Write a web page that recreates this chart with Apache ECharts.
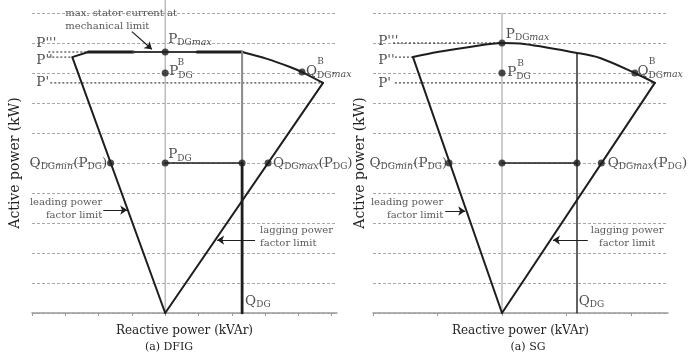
<!DOCTYPE html>
<html><head><meta charset="utf-8">
<script src="https://cdn.jsdelivr.net/npm/echarts@6/dist/echarts.min.js"></script>
<style>html,body{margin:0;padding:0;background:#fff}#c{width:700px;height:357px}</style>
</head><body><div id="c"></div>
<script>
// ---------- tick positions ----------
const dfigTicks = [-4, -3, -2, -1, 0, 1, 2, 3, 4, 5];
const sgTicks = [-2, -1, 0, 1, 2];
const activeTicksMax = 10;

// ---------- DFIG capability diagram (reactive power, active power) ----------
const dfigLeading = [[0, 0], [-2.79, 8.53], [-2.31, 8.7]];
const dfigTopA = [[-2.31, 8.7], [-0.96, 8.7]];
const dfigTopMid = [[-0.96, 8.7], [0.96, 8.7]];
const dfigTopB = [[0.96, 8.7], [2.31, 8.7]];
const dfigStatorArc = [[2.31, 8.7], [3.06, 8.47], [3.75, 8.2], [4.11, 8.03], [4.74, 7.67]];
const dfigLagging = [[4.74, 7.67], [0, 0]];
const dfigQdgUpper = [[2.31, 8.7], [2.31, 5]];
const dfigQdgLower = [[2.31, 5], [2.31, 0]];
const dfigPdgLine = [[0, 5], [2.31, 5]];
const dfigCenter = [[0, 0], [0, 10.43]];
const dfigRefP3 = [[-3.51, 8.7], [-2.31, 8.7]];
const dfigRefP2 = [[-3.51, 8.53], [-2.79, 8.53]];
const dfigRefP1 = [[-3.45, 7.67], [4.74, 7.67]];
const dfigPoints = [[0, 8.7], [0, 8.0], [4.11, 8.03], [-1.64, 5], [0, 5], [2.31, 5], [3.09, 5]];

// ---------- SG capability diagram ----------
const sgLeading = [[0, 0], [-1.38, 8.53]];
const sgStatorArc = [[-1.38, 8.53], [-1.0, 8.7], [-0.5, 8.87], [0, 9.0], [0.28, 8.98], [1.163, 8.67], [1.52, 8.5], [2.06, 8.0], [2.37, 7.67]];
const sgLagging = [[2.37, 7.67], [0, 0]];
const sgQdg = [[1.163, 8.67], [1.163, 0]];
const sgPdgLine = [[0, 5], [1.163, 5]];
const sgCenter = [[0, 0], [0, 10]];
const sgRefP3 = [[-1.69, 9.0], [0, 9.0]];
const sgRefP2 = [[-1.66, 8.53], [-1.38, 8.53]];
const sgRefP1 = [[-1.66, 7.67], [2.37, 7.67]];
const sgPoints = [[0, 9.0], [0, 8.0], [2.06, 8.0], [-0.82, 5], [0, 5], [1.163, 5], [1.54, 5]];

// ---------- texts ----------
const xName = 'Reactive power (kVAr)';
const yName = 'Active power (kW)';
const captions = ['(a) DFIG', '(a) SG'];

const FONT = "'DejaVu Serif', serif";
const TXT = '#222222';
const LINE = '#1e1e1e';
const GRIDC = '#a8a8a8';

const RICH = {
  b: { fontFamily: FONT, fontSize: 13.5, lineHeight: 17, color: TXT },
  s: { fontFamily: FONT, fontSize: 9, lineHeight: 11, verticalAlign: 'bottom', color: TXT },
  si: { fontFamily: FONT, fontSize: 9.5, fontStyle: 'italic', lineHeight: 11, verticalAlign: 'bottom', color: TXT },
  sp: { fontFamily: FONT, fontSize: 9, lineHeight: 11, color: TXT }
};

function lab(x, y, text, align, extra) {
  return {
    value: [x, y],
    label: Object.assign({
      show: true, position: 'inside', align: align || 'left', verticalAlign: 'middle',
      formatter: text, rich: RICH, fontFamily: FONT, fontSize: 13, color: TXT
    }, extra || {})
  };
}
const note = { fontSize: 10, lineHeight: 13, color: '#2e2e2e' };

const dfigLabels = [
  lab(-3.87, 9.0, "{b|P'''}"),
  lab(-3.87, 8.43, "{b|P''}"),
  lab(-3.87, 7.67, "{b|P'}"),
  lab(0.09, 9.13, '{b|P}{s|DG}{si|max}'),
  lab(0.12, 8.05, '{b|P}{s|DG}'),
  lab(0.37, 8.35, '{sp|B}'),
  lab(4.23, 8.05, '{b|Q}{s|DG}{si|max}'),
  lab(4.57, 8.38, '{sp|B}'),
  lab(-1.74, 5, '{b|Q}{s|DG}{si|min}{b|(P}{s|DG}{b|)}', 'right'),
  lab(0.09, 5.28, '{b|P}{s|DG}'),
  lab(3.24, 5, '{b|Q}{s|DG}{si|max}{b|(P}{s|DG}{b|)}'),
  lab(2.4, 0.4, '{b|Q}{s|DG}'),
  lab(-3.0, 9.78, 'max. stator current at\nmechanical limit', 'left', note),
  lab(-1.89, 3.48, 'leading power\nfactor limit', 'right', note),
  lab(2.85, 2.55, 'lagging power\nfactor limit', 'left', note)
];
const sgLabels = [
  lab(-1.92, 9.05, "{b|P'''}"),
  lab(-1.92, 8.43, "{b|P''}"),
  lab(-1.92, 7.65, "{b|P'}"),
  lab(0.06, 9.3, '{b|P}{s|DG}{si|max}'),
  lab(0.08, 8.02, '{b|P}{s|DG}'),
  lab(0.235, 8.3, '{sp|B}'),
  lab(2.1, 8.05, '{b|Q}{s|DG}{si|max}'),
  lab(2.275, 8.38, '{sp|B}'),
  lab(-0.85, 5, '{b|Q}{s|DG}{si|min}{b|(P}{s|DG}{b|)}', 'right'),
  lab(1.64, 5, '{b|Q}{s|DG}{si|max}{b|(P}{s|DG}{b|)}'),
  lab(1.19, 0.4, '{b|Q}{s|DG}'),
  lab(-0.91, 3.48, 'leading power\nfactor limit', 'right', note),
  lab(1.94, 2.55, 'lagging power\nfactor limit', 'center', note)
];
const dfigArrows = [
  [[-1.0, 9.38], [-0.4, 8.79]],
  [[-1.86, 3.43], [-1.14, 3.43]],
  [[2.7, 2.43], [1.56, 2.43]]
];
const sgArrows = [
  [[-0.88, 3.4], [-0.57, 3.4]],
  [[1.33, 2.43], [0.79, 2.43]]
];

function poly(i, pts, color, width, extra) {
  return Object.assign({
    type: 'line', xAxisIndex: i, yAxisIndex: i, data: pts, symbol: 'none', silent: true,
    animation: false, lineStyle: { color: color, width: width, cap: 'round', join: 'round' }, z: 3
  }, extra || {});
}
function dashed(i, pts) {
  return poly(i, pts, LINE, 1, { lineStyle: { color: LINE, width: 1, type: [2, 2] }, z: 2 });
}
function dots(i, pts) {
  return { type: 'scatter', xAxisIndex: i, yAxisIndex: i, data: pts, symbolSize: 7,
    itemStyle: { color: LINE }, z: 5, silent: true, animation: false };
}
function labels(i, items) {
  return { type: 'scatter', xAxisIndex: i, yAxisIndex: i, data: items, symbolSize: 1,
    itemStyle: { color: 'rgba(0,0,0,0)' }, z: 6, silent: true, animation: false };
}
function arrows(i, list) {
  return { type: 'lines', coordinateSystem: 'cartesian2d', xAxisIndex: i, yAxisIndex: i,
    data: list.map(c => ({ coords: c })), symbol: ['none', 'arrow'], symbolSize: [6, 7],
    lineStyle: { color: LINE, width: 1.2, opacity: 1 }, z: 6, silent: true, animation: false };
}

function xAx(i, min, max, ticks) {
  return {
    gridIndex: i, type: 'value', min: min, max: max, interval: 1,
    axisLine: { show: true, lineStyle: { color: '#9a9a9a', width: 1.5 } },
    axisTick: { show: true, customValues: ticks, length: 3, lineStyle: { color: '#9a9a9a', width: 1 } },
    axisLabel: { show: false }, splitLine: { show: false },
    name: xName, nameLocation: 'middle', nameGap: 12,
    nameTextStyle: { fontFamily: FONT, fontSize: 12, color: TXT }
  };
}
function yAx(i, gap) {
  return {
    gridIndex: i, type: 'value', min: 0, max: activeTicksMax, interval: 1,
    axisLine: { show: false }, axisTick: { show: false }, axisLabel: { show: false },
    splitLine: { show: true, lineStyle: { color: GRIDC, width: 1, type: [3, 2] } },
    name: yName, nameLocation: 'middle', nameGap: gap, nameRotate: 90,
    nameTextStyle: { fontFamily: FONT, fontSize: 14, color: TXT }
  };
}

const chart = echarts.init(document.getElementById('c'), null, { renderer: 'canvas' });
chart.setOption({
  animation: false,
  backgroundColor: '#fff',
  grid: [
    { left: 32, top: 13, width: 305, height: 300 },
    { left: 373, top: 13, width: 295, height: 300 }
  ],
  xAxis: [xAx(0, -4, 5.16, dfigTicks), xAx(1, -2, 2.574, sgTicks)],
  yAxis: [yAx(0, 10), yAx(1, 6)],
  graphic: [
    { type: 'text', x: 169, y: 347, style: { text: captions[0], fontFamily: FONT, fontSize: 11, fill: TXT, align: 'center', verticalAlign: 'middle' } },
    { type: 'text', x: 528, y: 347, style: { text: captions[1], fontFamily: FONT, fontSize: 11, fill: TXT, align: 'center', verticalAlign: 'middle' } }
  ],
  series: [
    // DFIG
    poly(0, dfigCenter, '#aaaaaa', 1.2, { clip: false, z: 1 }),
    dashed(0, dfigRefP3), dashed(0, dfigRefP2), dashed(0, dfigRefP1),
    poly(0, dfigLeading, LINE, 2),
    poly(0, dfigTopA, LINE, 3),
    poly(0, dfigTopMid, '#3a3a3a', 2.2),
    poly(0, dfigTopB, LINE, 3),
    poly(0, dfigStatorArc, LINE, 2, { smooth: 0.3 }),
    poly(0, dfigLagging, LINE, 2),
    poly(0, dfigQdgUpper, '#8a8a8a', 2),
    poly(0, dfigQdgLower, LINE, 2.8),
    poly(0, dfigPdgLine, LINE, 1.4),
    dots(0, dfigPoints),
    arrows(0, dfigArrows),
    labels(0, dfigLabels),
    // SG
    poly(1, sgCenter, '#aaaaaa', 1.2, { z: 1 }),
    dashed(1, sgRefP3), dashed(1, sgRefP2), dashed(1, sgRefP1),
    poly(1, sgLeading, LINE, 2),
    poly(1, sgStatorArc, LINE, 2, { smooth: 0.3 }),
    poly(1, sgLagging, LINE, 2),
    poly(1, sgQdg, LINE, 1.4),
    poly(1, sgPdgLine, LINE, 1.4),
    dots(1, sgPoints),
    arrows(1, sgArrows),
    labels(1, sgLabels)
  ]
});
</script>
</body></html>
